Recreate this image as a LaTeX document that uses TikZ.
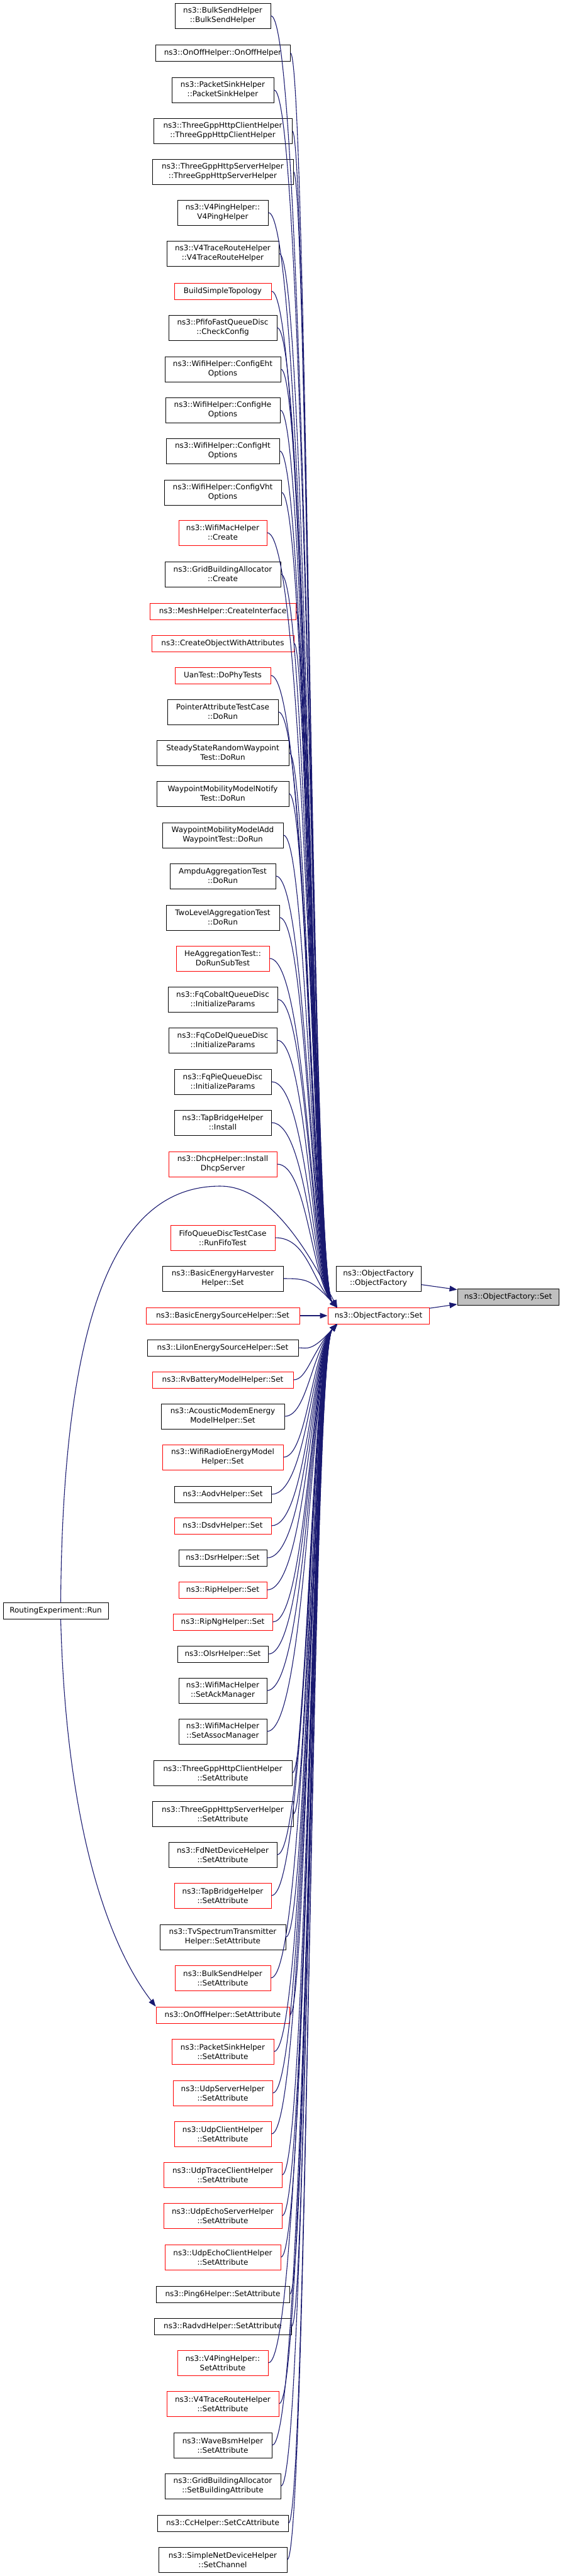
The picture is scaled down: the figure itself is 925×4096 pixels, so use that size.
\documentclass[tikz,border=0pt]{standalone}
\usepackage{fontspec}
\setmainfont{DejaVu Sans}
\usetikzlibrary{arrows.meta}
\definecolor{edgec}{HTML}{191970}
\definecolor{redc}{HTML}{FF0000}
\definecolor{greyc}{HTML}{BFBFBF}
\tikzset{
 box/.style={draw, fill=white, line width=1pt, inner sep=0pt, align=center, font=\fontsize{12}{15}\selectfont},
 one/.style={minimum height=26pt},
 two/.style={minimum height=40pt},
 edge/.style={draw=edgec, line width=1.1pt, -{Triangle[length=12pt,width=9pt]}},
}
\newcommand\cnA[5]{\node[box,one,draw=#4,minimum width={2*(354-#3)}] (#1) at (354,{#2+13}) {#5};}
\newcommand\cnB[5]{\node[box,two,draw=#4,minimum width={2*(354-#3)}] (#1) at (354,{#2+20}) {#5};}
\newcommand\eup[1]{\draw[edge] (#1.east) .. controls (#1.east -| vx) and (495,2035) .. (536,2079);}
\newcommand\edn[1]{\draw[edge] (#1.east) .. controls (#1.east -| vx) and (495,2150) .. (536,2105);}
\begin{document}
\begin{tikzpicture}[x=1pt,y=-1pt]
\useasboundingbox (0,0) rectangle (925,4096);
\fill[white] (0,0) rectangle (925,4096);
\coordinate (vx) at (488,0);
\cnB{n1}{5}{278}{black}{ns3::BulkSendHelper\\::BulkSendHelper}
\cnA{n2}{71}{247}{black}{ns3::OnOffHelper::OnOffHelper}
\cnB{n3}{123}{273}{black}{ns3::PacketSinkHelper\\::PacketSinkHelper}
\cnB{n4}{188}{244}{black}{ns3::ThreeGppHttpClientHelper\\::ThreeGppHttpClientHelper}
\cnB{n5}{253}{242}{black}{ns3::ThreeGppHttpServerHelper\\::ThreeGppHttpServerHelper}
\cnB{n6}{318}{282}{black}{ns3::V4PingHelper::\\V4PingHelper}
\cnB{n7}{383}{265}{black}{ns3::V4TraceRouteHelper\\::V4TraceRouteHelper}
\cnA{n8}{450}{277}{redc}{BuildSimpleTopology}
\cnB{n9}{501}{268}{black}{ns3::PfifoFastQueueDisc\\::CheckConfig}
\cnB{n10}{567}{262}{black}{ns3::WifiHelper::ConfigEht\\Options}
\cnB{n11}{632}{263}{black}{ns3::WifiHelper::ConfigHe\\Options}
\cnB{n12}{697}{264}{black}{ns3::WifiHelper::ConfigHt\\Options}
\cnB{n13}{763}{261}{black}{ns3::WifiHelper::ConfigVht\\Options}
\cnB{n14}{827}{284}{redc}{ns3::WifiMacHelper\\::Create}
\cnB{n15}{893}{262}{black}{ns3::GridBuildingAllocator\\::Create}
\cnA{n16}{959}{238}{redc}{ns3::MeshHelper::CreateInterface}
\cnA{n17}{1010}{241}{redc}{ns3::CreateObjectWithAttributes}
\cnA{n18}{1061}{278}{redc}{UanTest::DoPhyTests}
\cnB{n19}{1112}{266}{black}{PointerAttributeTestCase\\::DoRun}
\cnB{n20}{1177}{249}{black}{SteadyStateRandomWaypoint\\Test::DoRun}
\cnB{n21}{1242}{249}{black}{WaypointMobilityModelNotify\\Test::DoRun}
\cnB{n22}{1308}{258}{black}{WaypointMobilityModelAdd\\WaypointTest::DoRun}
\cnB{n23}{1373}{270}{black}{AmpduAggregationTest\\::DoRun}
\cnB{n24}{1439}{264}{black}{TwoLevelAggregationTest\\::DoRun}
\cnB{n25}{1504}{280}{redc}{HeAggregationTest::\\DoRunSubTest}
\cnB{n26}{1569}{267}{black}{ns3::FqCobaltQueueDisc\\::InitializeParams}
\cnB{n27}{1634}{268}{black}{ns3::FqCoDelQueueDisc\\::InitializeParams}
\cnB{n28}{1700}{277}{black}{ns3::FqPieQueueDisc\\::InitializeParams}
\cnB{n29}{1765}{277}{black}{ns3::TapBridgeHelper\\::Install}
\cnB{n30}{1831}{268}{redc}{ns3::DhcpHelper::Install\\DhcpServer}
\cnB{n31}{1948}{271}{redc}{FifoQueueDiscTestCase\\::RunFifoTest}
\cnB{n32}{2013}{258}{black}{ns3::BasicEnergyHarvester\\Helper::Set}
\cnA{n33}{2079}{232}{redc}{ns3::BasicEnergySourceHelper::Set}
\cnA{n34}{2130}{234}{black}{ns3::LiIonEnergySourceHelper::Set}
\cnA{n35}{2181}{242}{redc}{ns3::RvBatteryModelHelper::Set}
\cnB{n36}{2232}{256}{black}{ns3::AcousticModemEnergy\\ModelHelper::Set}
\cnB{n37}{2297}{258}{redc}{ns3::WifiRadioEnergyModel\\Helper::Set}
\cnA{n38}{2363}{277}{black}{ns3::AodvHelper::Set}
\cnA{n39}{2413}{277}{redc}{ns3::DsdvHelper::Set}
\cnA{n40}{2464}{284}{black}{ns3::DsrHelper::Set}
\cnA{n41}{2515}{284}{redc}{ns3::RipHelper::Set}
\cnA{n42}{2566}{275}{redc}{ns3::RipNgHelper::Set}
\cnA{n43}{2617}{282}{black}{ns3::OlsrHelper::Set}
\cnB{n44}{2668}{284}{black}{ns3::WifiMacHelper\\::SetAckManager}
\cnB{n45}{2733}{284}{black}{ns3::WifiMacHelper\\::SetAssocManager}
\cnB{n46}{2799}{244}{black}{ns3::ThreeGppHttpClientHelper\\::SetAttribute}
\cnB{n47}{2864}{242}{black}{ns3::ThreeGppHttpServerHelper\\::SetAttribute}
\cnB{n48}{2929}{268}{black}{ns3::FdNetDeviceHelper\\::SetAttribute}
\cnB{n49}{2994}{277}{redc}{ns3::TapBridgeHelper\\::SetAttribute}
\cnB{n50}{3060}{254}{black}{ns3::TvSpectrumTransmitter\\Helper::SetAttribute}
\cnB{n51}{3125}{278}{redc}{ns3::BulkSendHelper\\::SetAttribute}
\cnA{n52}{3191}{248}{redc}{ns3::OnOffHelper::SetAttribute}
\cnB{n53}{3242}{273}{redc}{ns3::PacketSinkHelper\\::SetAttribute}
\cnB{n54}{3308}{275}{redc}{ns3::UdpServerHelper\\::SetAttribute}
\cnB{n55}{3373}{277}{redc}{ns3::UdpClientHelper\\::SetAttribute}
\cnB{n56}{3438}{260}{redc}{ns3::UdpTraceClientHelper\\::SetAttribute}
\cnB{n57}{3503}{260}{redc}{ns3::UdpEchoServerHelper\\::SetAttribute}
\cnB{n58}{3569}{262}{redc}{ns3::UdpEchoClientHelper\\::SetAttribute}
\cnA{n59}{3635}{248}{black}{ns3::Ping6Helper::SetAttribute}
\cnA{n60}{3686}{245}{black}{ns3::RadvdHelper::SetAttribute}
\cnB{n61}{3737}{282}{redc}{ns3::V4PingHelper::\\SetAttribute}
\cnB{n62}{3802}{265}{redc}{ns3::V4TraceRouteHelper\\::SetAttribute}
\cnB{n63}{3868}{276}{black}{ns3::WaveBsmHelper\\::SetAttribute}
\cnB{n64}{3933}{262}{black}{ns3::GridBuildingAllocator\\::SetBuildingAttribute}
\cnA{n65}{3999}{250}{black}{ns3::CcHelper::SetCcAttribute}
\cnB{n66}{4050}{252}{black}{ns3::SimpleNetDeviceHelper\\::SetChannel}
% right side
\node[box,one,minimum width=161pt,draw=redc] (ofset) at (601.5,2092) {ns3::ObjectFactory::Set};
\node[box,two,minimum width=135pt,draw=black] (ofctor) at (601.5,2033) {ns3::ObjectFactory\\::ObjectFactory};
\node[box,one,minimum width=161pt,draw=black,fill=greyc] (focus) at (807.5,2062) {ns3::ObjectFactory::Set};
\node[box,one,minimum width=167pt,draw=black] (re) at (88.5,2561) {RoutingExperiment::Run};
% edges
\foreach \i in {1,...,32} {\eup{n\i}}
\draw[edge] (n33) -- (ofset);
\foreach \i in {34,...,66} {\edn{n\i}}
\draw[edge] (ofset) -- (focus);
\draw[edge] (ofctor) -- (focus);
\draw[edge] ([xshift=8pt]re.north) .. controls (100,2050) and (200,1886) .. (350,1886) .. controls (430,1886) and (490,1990) .. (536,2079);
\draw[edge] ([xshift=8pt]re.south) .. controls (105,2900) and (170,3090) .. (n52.north west);
\end{tikzpicture}
\end{document}
